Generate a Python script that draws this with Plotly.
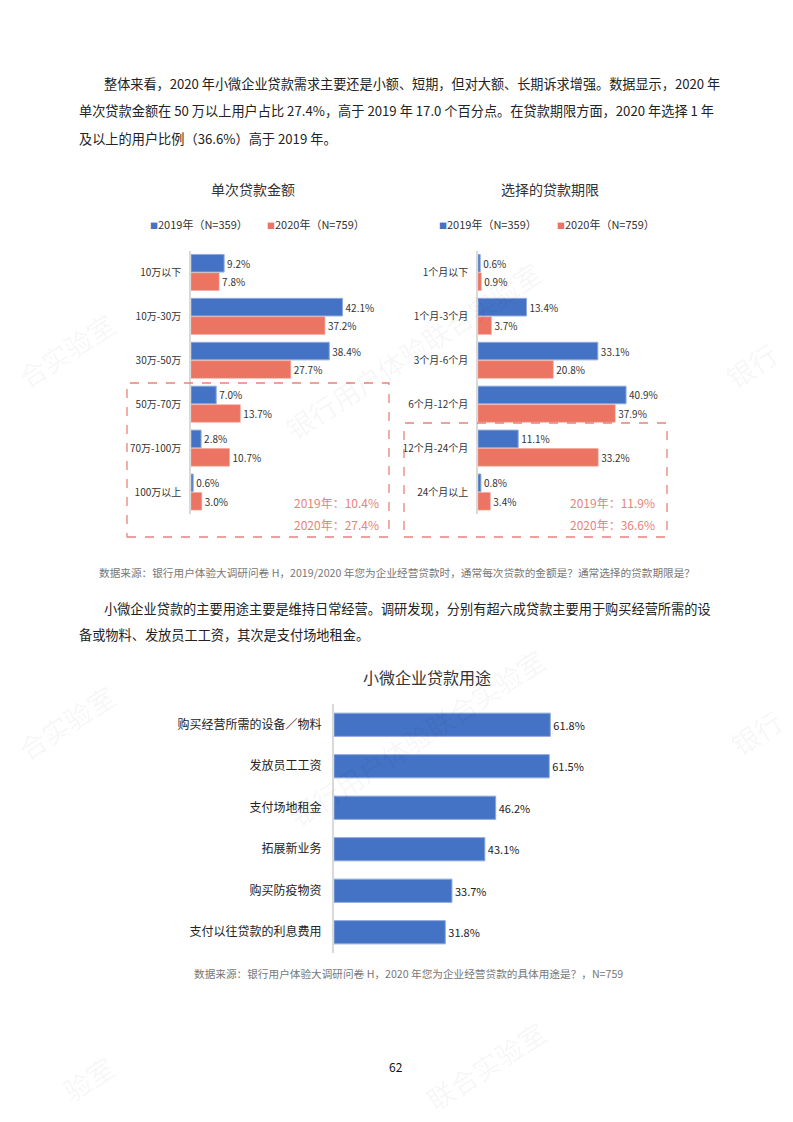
import plotly.graph_objects as go

W, H = 793, 1122
FONT = "Noto Sans CJK SC"
BLUE = "#4472C4"
RED = "#EC7463"
BOXC = "#E8837A"

# ---------------- data ----------------
amount_cats = ["10万以下", "10万-30万", "30万-50万", "50万-70万", "70万-100万", "100万以上"]
amount_2019 = [9.2, 42.1, 38.4, 7.0, 2.8, 0.6]
amount_2020 = [7.8, 37.2, 27.7, 13.7, 10.7, 3.0]

term_cats = ["1个月以下", "1个月-3个月", "3个月-6个月", "6个月-12个月", "12个月-24个月", "24个月以上"]
term_2019 = [0.6, 13.4, 33.1, 40.9, 11.1, 0.8]
term_2020 = [0.9, 3.7, 20.8, 37.9, 33.2, 3.4]

use_cats = ["购买经营所需的设备／物料", "发放员工工资", "支付场地租金", "拓展新业务", "购买防疫物资", "支付以往贷款的利息费用"]
use_vals = [61.8, 61.5, 46.2, 43.1, 33.7, 31.8]

legend_2019 = "2019年（N=359）"
legend_2020 = "2020年（N=759）"
box1_texts = ["2019年：10.4%", "2020年：27.4%"]
box2_texts = ["2019年：11.9%", "2020年：36.6%"]


def X(px):
    return px / W


def Y(py):
    return 1 - py / H


def pct(v):
    return [f"{x:.1f}%" for x in v]


fig = go.Figure()

# chart 1
fig.add_trace(go.Bar(y=amount_cats, x=amount_2019, orientation="h", xaxis="x", yaxis="y",
                     marker=dict(color=BLUE, line=dict(color="#8EA9DB", width=1)),
                     width=0.4, offset=-0.41,
                     text=pct(amount_2019), textposition="outside", cliponaxis=False,
                     textfont=dict(size=10, color="#333333", family=FONT), showlegend=False))
fig.add_trace(go.Bar(y=amount_cats, x=amount_2020, orientation="h", xaxis="x", yaxis="y",
                     marker=dict(color=RED, line=dict(color="#F4A497", width=0.6)),
                     width=0.4, offset=0.01,
                     text=pct(amount_2020), textposition="outside", cliponaxis=False,
                     textfont=dict(size=10, color="#333333", family=FONT), showlegend=False))
# chart 2
fig.add_trace(go.Bar(y=term_cats, x=term_2019, orientation="h", xaxis="x2", yaxis="y2",
                     marker=dict(color=BLUE, line=dict(color="#8EA9DB", width=1)),
                     width=0.4, offset=-0.41,
                     text=pct(term_2019), textposition="outside", cliponaxis=False,
                     textfont=dict(size=10, color="#333333", family=FONT), showlegend=False))
fig.add_trace(go.Bar(y=term_cats, x=term_2020, orientation="h", xaxis="x2", yaxis="y2",
                     marker=dict(color=RED, line=dict(color="#F4A497", width=0.6)),
                     width=0.4, offset=0.01,
                     text=pct(term_2020), textposition="outside", cliponaxis=False,
                     textfont=dict(size=10, color="#333333", family=FONT), showlegend=False))
# chart 3
fig.add_trace(go.Bar(y=use_cats, x=use_vals, orientation="h", xaxis="x3", yaxis="y3",
                     marker=dict(color=BLUE, line=dict(color="#8EA9DB", width=1)),
                     width=0.56, offset=-0.28,
                     text=pct(use_vals), textposition="outside", cliponaxis=False,
                     textfont=dict(size=11, color="#222222", family=FONT), showlegend=False))

xa = dict(visible=False, fixedrange=True)
ya = dict(type="category", range=[5.5, -0.5], showline=True, linecolor="#D9D9D9", linewidth=1.5,
          ticks="", showgrid=False, zeroline=False, ticklabelstandoff=6, fixedrange=True,
          tickfont=dict(size=10, color="#333333", family=FONT))

fig.update_layout(
    width=W, height=H, margin=dict(l=0, r=0, t=0, b=0),
    paper_bgcolor="white", plot_bgcolor="rgba(0,0,0,0)",
    font=dict(family=FONT),
    barmode="overlay",
    xaxis=dict(xa, domain=[X(191), X(371)], range=[0, 50], anchor="y"),
    yaxis=dict(ya, domain=[Y(514), Y(250.5)], anchor="x"),
    xaxis2=dict(xa, domain=[X(478), X(659)], range=[0, 50], anchor="y2"),
    yaxis2=dict(ya, domain=[Y(514), Y(250.5)], anchor="x2"),
    xaxis3=dict(xa, domain=[X(334), X(614)], range=[0, 80], anchor="y3"),
    yaxis3=dict(ya, domain=[Y(953), Y(704)], anchor="x3", linewidth=2, ticklabelstandoff=8,
                tickfont=dict(size=12, color="#222222", family=FONT)),
)

ann = []


def text(x, y, s, size, color="#222222", xanchor="left", yanchor="middle", angle=0):
    ann.append(dict(x=X(x), y=Y(y), xref="paper", yref="paper", text=s, showarrow=False,
                    xanchor=xanchor, yanchor=yanchor, textangle=angle,
                    font=dict(size=size, color=color, family=FONT)))


# watermarks (only the parts that fall inside the page)
WMC = "rgba(0,0,0,0.05)"
for cx, cy, s in [(413, 351, "银行用户体验联合实验室"), (417, 737, "银行用户体验联合实验室"),
                  (66, 350, "合实验室"), (66, 722, "合实验室"), (88, 1078, "验室"),
                  (486, 1065, "联合实验室"), (751, 365, "银行"), (756, 732, "银行")]:
    text(cx, cy, s, 27, color=WMC, xanchor="center", angle=-33)

# paragraph 1
text(102, 84, "整体来看，2020 年小微企业贷款需求主要还是小额、短期，但对大额、长期诉求增强。数据显示，2020 年", 13.15)
text(77, 111, "单次贷款金额在 50 万以上用户占比 27.4%，高于 2019 年 17.0 个百分点。在贷款期限方面，2020 年选择 1 年", 13.2)
text(77, 138, "及以上的用户比例（36.6%）高于 2019 年。", 13.2)

# chart titles and legends
text(253, 189, "单次贷款金额", 14, color="#333333", xanchor="center")
text(550, 189, "选择的贷款期限", 14, color="#333333", xanchor="center")
sq_b = f'<span style="color:{BLUE};font-size:8px">■</span>'
sq_r = f'<span style="color:{RED};font-size:8px">■</span>'
text(148, 224, sq_b + legend_2019, 11, color="#333333")
text(265, 224, sq_r + legend_2020, 11, color="#333333")
text(437, 224, sq_b + legend_2019, 11, color="#333333")
text(555, 224, sq_r + legend_2020, 11, color="#333333")

# box texts
text(381, 503, box1_texts[0], 12, color=BOXC, xanchor="right")
text(381, 524, box1_texts[1], 12, color=BOXC, xanchor="right")
text(657, 503, box2_texts[0], 12, color=BOXC, xanchor="right")
text(657, 524, box2_texts[1], 12, color=BOXC, xanchor="right")

# footnote 1
text(97, 572, "数据来源：银行用户体验大调研问卷 H，2019/2020 年您为企业经营贷款时，通常每次贷款的金额是？通常选择的贷款期限是？",
     10.65, color="#777777")

# paragraph 2
text(102, 608, "小微企业贷款的主要用途主要是维持日常经营。调研发现，分别有超六成贷款主要用于购买经营所需的设", 13.2)
text(77, 634, "备或物料、发放员工工资，其次是支付场地租金。", 13.2)

# chart 3 title
text(427, 677, "小微企业贷款用途", 16, color="#333333", xanchor="center")

# footnote 2
text(192, 973, "数据来源：银行用户体验大调研问卷 H，2020 年您为企业经营贷款的具体用途是？，N=759", 10.65, color="#777777")

# page number
text(396, 1066, "62", 12, color="#111111", xanchor="center")

fig.update_layout(annotations=ann)

shapes = []
for x0, x1, y0, y1 in [(127, 389, 383, 537), (404, 667, 423, 537)]:
    shapes.append(dict(type="rect", xref="paper", yref="paper", x0=X(x0), x1=X(x1), y0=Y(y1), y1=Y(y0),
                       line=dict(color=BOXC, width=1.3, dash="dash"), fillcolor="rgba(0,0,0,0)"))
fig.update_layout(shapes=shapes)

fig.write_html("out.html", config={"displayModeBar": False},
               post_script="document.body.style.margin='0';document.body.style.overflow='hidden';")
